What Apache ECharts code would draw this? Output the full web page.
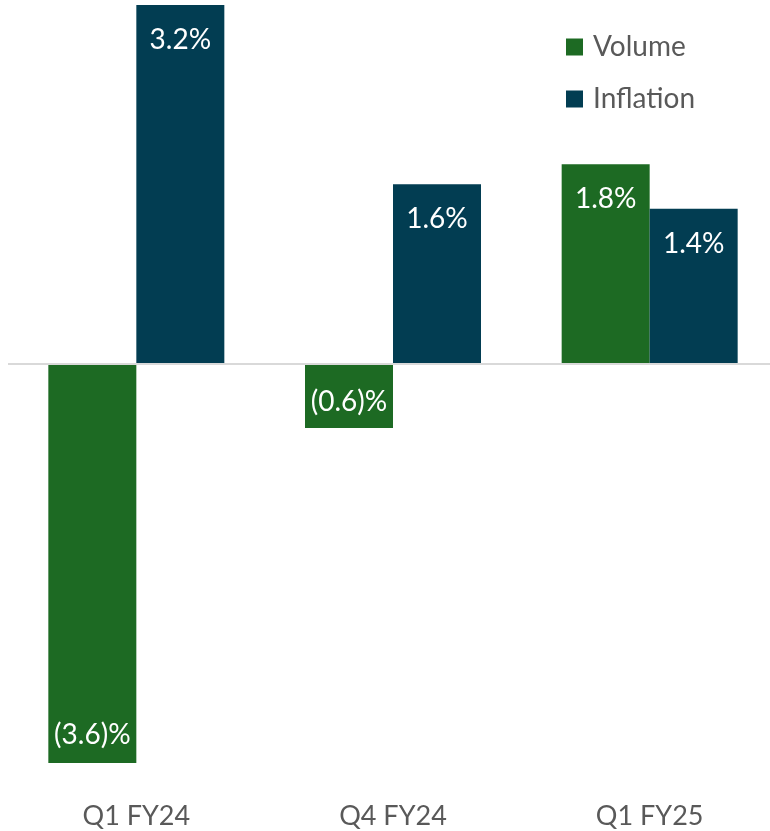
<!DOCTYPE html>
<html>
<head>
<meta charset="utf-8">
<script src="https://cdn.jsdelivr.net/npm/echarts@6/dist/echarts.min.js"></script>
<style>
  html, body { margin: 0; padding: 0; background: #fff; overflow: hidden; }
  #chart { width: 778px; height: 831px; }
</style>
</head>
<body>
<div id="chart"></div>
<script>
const categories = ['Q1 FY24', 'Q4 FY24', 'Q1 FY25'];
// values; labels show them rounded to one decimal
const volume = [-3.59, -0.58, 1.79];
const inflation = [3.22, 1.61, 1.39];

const chart = echarts.init(document.getElementById('chart'));

function fmt(params) {
    const v = params.value;
    return v < 0 ? '(' + Math.abs(v).toFixed(1) + ')%' : v.toFixed(1) + '%';
}

function withLabels(values) {
    // positive bars: label near the top, negative: near the bottom
    return values.map(v => ({
        value: v,
        label: v < 0
            ? { position: 'insideBottom', distance: v < -1 ? 14 : 12 }
            : { position: 'insideTop', distance: 21 }
    }));
}

const labelStyle = {
    show: true,
    color: '#ffffff',
    fontSize: 28,
    fontFamily: 'Lato',
    formatter: fmt
};

chart.setOption({
    animation: false,
    textStyle: { fontFamily: 'Lato' },
    // the plot runs a little past the right edge of the 770px window, as in the original
    grid: { left: 8, top: 5, right: 0, bottom: 68 },
    legend: {
        orient: 'vertical',
        left: 561,
        top: 28,
        itemWidth: 17,
        itemHeight: 17,
        itemGap: 24,
        icon: 'rect',
        textStyle: {
            color: '#595959',
            fontSize: 28,
            fontFamily: 'Lato',
            padding: [0, 0, 0, 5]
        },
        data: ['Volume', 'Inflation']
    },
    xAxis: {
        type: 'category',
        data: categories,
        axisLine: { show: false },
        axisTick: { show: false },
        axisLabel: { color: '#595959', fontSize: 27, margin: 40, fontFamily: 'Lato' }
    },
    yAxis: {
        type: 'value',
        min: -3.59,
        max: 3.22,
        show: false,
        splitLine: { show: false }
    },
    series: [
        {
            name: 'Volume',
            type: 'bar',
            barWidth: 88,
            barGap: '0%',
            itemStyle: { color: '#1d6a23' },
            label: labelStyle,
            data: withLabels(volume),
            markLine: {
                silent: true,
                symbol: 'none',
                label: { show: false },
                lineStyle: { color: '#d9d9d9', width: 2, type: 'solid' },
                data: [{ yAxis: 0 }]
            }
        },
        {
            name: 'Inflation',
            type: 'bar',
            barWidth: 88,
            barGap: '0%',
            itemStyle: { color: '#023d52' },
            label: labelStyle,
            data: withLabels(inflation)
        }
    ]
});
</script>
</body>
</html>
